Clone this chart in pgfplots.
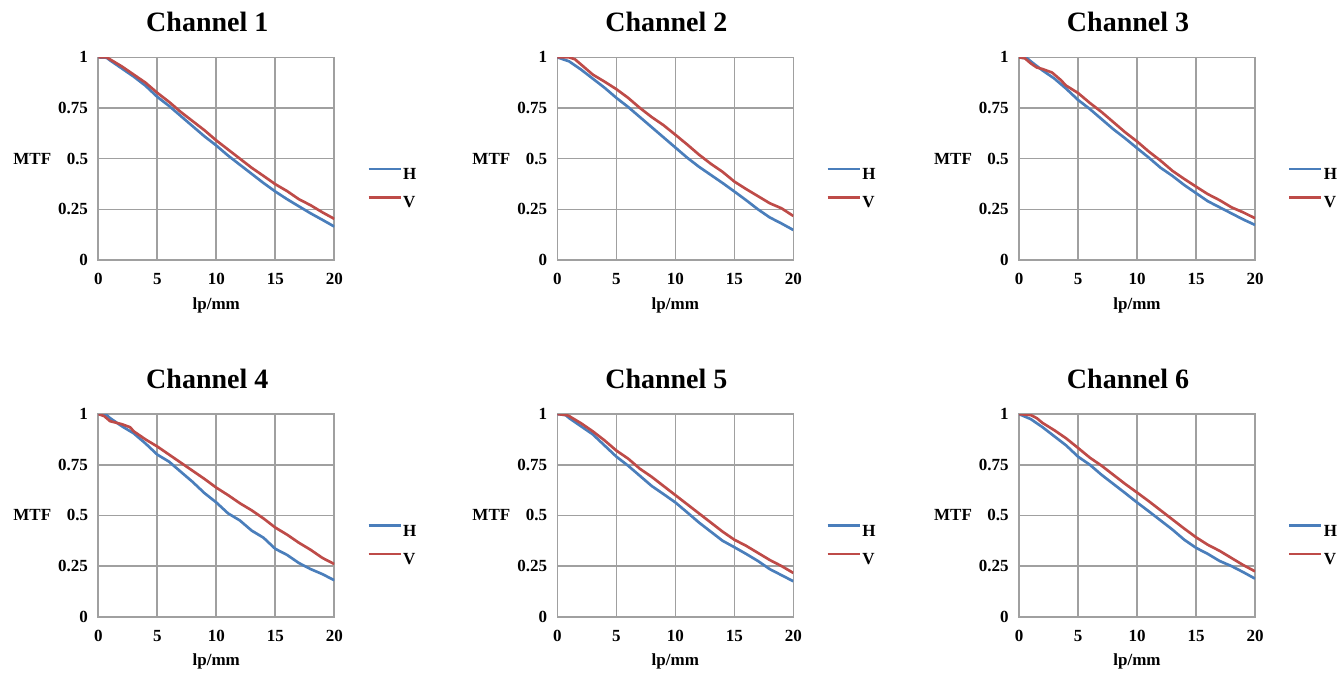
\documentclass[border=0pt]{standalone}
\usepackage{fontspec}
\setmainfont{Liberation Serif}
\usepackage{pgfplots}
\pgfplotsset{compat=1.18}
\definecolor{hblue}{HTML}{4A7EBB}
\definecolor{vred}{HTML}{BE4B48}
\definecolor{gridgray}{HTML}{A0A0A0}
\pgfplotsset{
  mtf/.style={
    scale only axis, width=177pt, height=152pt,
    anchor=south west,
    xmin=0, xmax=20, ymin=0, ymax=1,
    xtick={0,5,10,15,20}, ytick={0,0.25,0.5,0.75,1},
    grid=major,
    major grid style={draw=gridgray, line width=1.2pt},
    axis line style={draw=gridgray, line width=1.2pt},
    major tick length=0pt,
    /pgf/number format/assume math mode=true,
    tick label style={font=\fontsize{12.75}{15}\selectfont\bfseries},
    yticklabel style={inner sep=0pt, xshift=-7.5pt},
    xticklabel style={inner sep=0pt, yshift=-9.75pt},
    every axis title shift=0pt,
    title style={font=\fontsize{21}{25}\selectfont\bfseries, at={(rel axis cs:0.462,1)}, anchor=base, yshift=19.5pt, inner sep=0pt},
    xlabel={lp/mm}, ylabel={MTF},
    label style={font=\fontsize{12.75}{15}\selectfont\bfseries},
    ylabel style={rotate=-90, at={(axis description cs:0,0.5)}, anchor=center, xshift=-49.5pt},
    xlabel style={at={(axis description cs:0.5,0)}, anchor=center, yshift=-33.75pt},
    legend style={draw=none, fill=none, at={(axis description cs:1,0.352)}, anchor=west, xshift=24.5pt,
      font=\fontsize{12.75}{15}\selectfont\bfseries, inner sep=0pt, row sep=11pt,
      nodes={inner xsep=1pt, inner ysep=0pt}},
    legend cell align=left,
    legend image code/.code={\draw[##1, line width=2pt] (0pt,4.3pt) -- (24pt,4.3pt);},
    every axis plot/.append style={line width=2pt, mark=none, line join=round},
  },
  hline/.style={hblue},
  vline/.style={vred},
}
\begin{document}
\begin{tikzpicture}
\path[use as bounding box] (0,0) rectangle (1005.75pt,504.75pt);
% Channel 1
\begin{axis}[mtf, at={(73.7pt,309.75pt)}, title={Channel 1}]
\addplot[hline] coordinates {(0,1.0)(0.7,0.998)(1,0.985)(2,0.945)(3,0.905)(4,0.86)(5,0.805)(6,0.76)(7,0.71)(8,0.66)(9,0.61)(10,0.565)(11,0.515)(12,0.47)(13,0.425)(14,0.38)(15,0.338)(16,0.30)(17,0.265)(18,0.23)(19,0.198)(20,0.165)};
\addplot[vline] coordinates {(0,1.0)(0.7,1.0)(1,0.99)(2,0.955)(3,0.915)(4,0.875)(5,0.825)(6,0.78)(7,0.73)(8,0.685)(9,0.64)(10,0.59)(11,0.545)(12,0.5)(13,0.455)(14,0.415)(15,0.374)(16,0.34)(17,0.30)(18,0.27)(19,0.235)(20,0.203)};
\legend{H,V}
\end{axis}
% Channel 2
\begin{axis}[mtf, at={(418pt,309.75pt)}, title={Channel 2}]
\addplot[hline] coordinates {(0,1.0)(1,0.98)(2,0.94)(3,0.895)(4,0.85)(5,0.80)(6,0.755)(7,0.705)(8,0.655)(9,0.605)(10,0.555)(11,0.505)(12,0.46)(13,0.42)(14,0.38)(15,0.338)(16,0.295)(17,0.25)(18,0.21)(19,0.18)(20,0.148)};
\addplot[vline] coordinates {(0,1.0)(1,1.0)(1.5,0.99)(2,0.965)(3,0.915)(4,0.88)(5,0.843)(6,0.8)(7,0.75)(8,0.705)(9,0.665)(10,0.618)(11,0.57)(12,0.52)(13,0.475)(14,0.435)(15,0.387)(16,0.35)(17,0.315)(18,0.28)(19,0.255)(20,0.217)};
\legend{H,V}
\end{axis}
% Channel 3
\begin{axis}[mtf, at={(764.25pt,309.75pt)}, title={Channel 3}]
\addplot[hline] coordinates {(0,1.0)(0.7,0.995)(1,0.98)(2,0.935)(3,0.895)(4,0.845)(5,0.79)(6,0.745)(7,0.695)(8,0.645)(9,0.6)(10,0.552)(11,0.505)(12,0.455)(13,0.415)(14,0.37)(15,0.33)(16,0.29)(17,0.26)(18,0.23)(19,0.2)(20,0.173)};
\addplot[vline] coordinates {(0,1.0)(0.5,0.995)(1,0.97)(1.5,0.95)(2,0.942)(2.8,0.925)(3.5,0.89)(4,0.86)(5,0.824)(6,0.775)(7,0.73)(8,0.68)(9,0.63)(10,0.585)(11,0.535)(12,0.49)(13,0.44)(14,0.4)(15,0.362)(16,0.325)(17,0.295)(18,0.26)(19,0.235)(20,0.206)};
\legend{H,V}
\end{axis}
% Channel 4
\begin{axis}[mtf, at={(73.7pt,42.2pt)}, title={Channel 4}]
\addplot[hline] coordinates {(0,1.0)(0.7,0.995)(1,0.98)(2,0.94)(3,0.905)(4,0.855)(5,0.80)(6,0.765)(7,0.715)(8,0.665)(9,0.61)(10,0.564)(11,0.51)(12,0.475)(13,0.425)(14,0.39)(15,0.335)(16,0.305)(17,0.265)(18,0.235)(19,0.21)(20,0.18)};
\addplot[vline] coordinates {(0,1.0)(0.5,0.99)(1,0.965)(2,0.95)(2.7,0.935)(3,0.915)(4,0.875)(5,0.84)(6,0.8)(7,0.76)(8,0.72)(9,0.68)(10,0.637)(11,0.6)(12,0.56)(13,0.525)(14,0.485)(15,0.44)(16,0.405)(17,0.365)(18,0.33)(19,0.29)(20,0.26)};
\legend{H,V}
\end{axis}
% Channel 5
\begin{axis}[mtf, at={(418pt,42.2pt)}, title={Channel 5}]
\addplot[hline] coordinates {(0,1.0)(0.7,0.995)(1,0.98)(2,0.94)(3,0.9)(4,0.845)(5,0.79)(6,0.745)(7,0.695)(8,0.645)(9,0.605)(10,0.564)(11,0.515)(12,0.465)(13,0.42)(14,0.375)(15,0.343)(16,0.31)(17,0.275)(18,0.235)(19,0.205)(20,0.175)};
\addplot[vline] coordinates {(0,1.0)(0.8,0.995)(1,0.99)(2,0.955)(3,0.915)(4,0.87)(5,0.82)(6,0.78)(7,0.73)(8,0.69)(9,0.645)(10,0.60)(11,0.555)(12,0.51)(13,0.465)(14,0.42)(15,0.38)(16,0.35)(17,0.315)(18,0.28)(19,0.25)(20,0.216)};
\legend{H,V}
\end{axis}
% Channel 6
\begin{axis}[mtf, at={(764.25pt,42.2pt)}, title={Channel 6}]
\addplot[hline] coordinates {(0,1.0)(1,0.975)(2,0.935)(3,0.89)(4,0.845)(5,0.79)(6,0.75)(7,0.7)(8,0.655)(9,0.61)(10,0.564)(11,0.52)(12,0.475)(13,0.43)(14,0.38)(15,0.34)(16,0.31)(17,0.275)(18,0.25)(19,0.22)(20,0.188)};
\addplot[vline] coordinates {(0,1.0)(1,0.995)(1.5,0.98)(2,0.956)(3,0.92)(4,0.88)(5,0.833)(6,0.785)(7,0.745)(8,0.7)(9,0.655)(10,0.613)(11,0.57)(12,0.525)(13,0.48)(14,0.435)(15,0.392)(16,0.355)(17,0.325)(18,0.29)(19,0.255)(20,0.224)};
\legend{H,V}
\end{axis}
\end{tikzpicture}
\end{document}
